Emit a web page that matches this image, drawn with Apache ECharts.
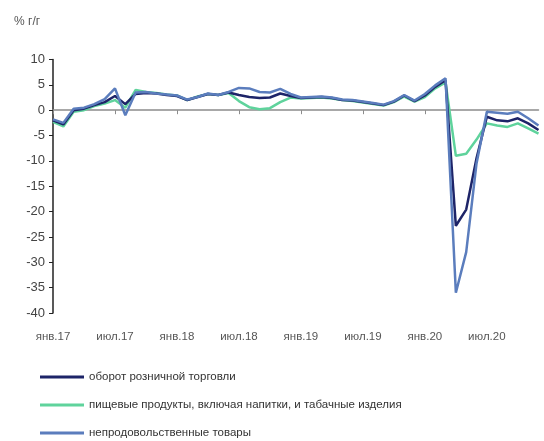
<!DOCTYPE html>
<html><head><meta charset="utf-8">
<script src="https://cdn.jsdelivr.net/npm/echarts@6/dist/echarts.min.js"></script>
<style>html,body{margin:0;padding:0;background:#fff}#c{width:544px;height:441px}</style>
</head><body><div id="c"></div>
<script>
const months = ['янв','фев','мар','апр','май','июн','июл','авг','сен','окт','ноя','дек'];
const years = ['17','18','19','20'];
const categories = [];
years.forEach(y => months.forEach(m => categories.push(m + '.' + y)));

const retail = [-2.0,-2.8,0.0,0.3,1.0,1.6,2.8,1.2,3.2,3.4,3.3,3.0,
  2.8,2.0,2.6,3.2,3.0,3.5,3.0,2.6,2.4,2.5,3.3,2.8,
  2.4,2.5,2.6,2.4,2.0,1.9,1.6,1.3,1.0,1.7,2.9,1.8,
  2.9,4.6,5.9,-22.8,-19.6,-9.5,-1.3,-2.0,-2.2,-1.6,-2.6,-3.9];
const food = [-2.3,-3.2,-0.3,0.0,0.8,1.3,2.0,0.5,4.0,3.6,3.4,3.1,
  2.9,2.0,2.7,3.2,3.0,3.4,1.8,0.6,0.2,0.4,1.6,2.5,
  2.3,2.4,2.5,2.3,2.0,1.8,1.5,1.2,0.9,1.6,2.7,1.7,
  2.6,4.3,5.5,-9.0,-8.6,-5.8,-2.6,-3.0,-3.3,-2.6,-3.6,-4.6];
const nonfood = [-1.8,-2.5,0.3,0.5,1.2,2.2,4.3,-1.0,3.5,3.6,3.3,3.1,
  2.9,2.1,2.6,3.3,3.0,3.6,4.4,4.3,3.6,3.5,4.2,3.2,
  2.5,2.6,2.7,2.5,2.1,2.0,1.7,1.4,1.1,1.8,3.0,1.9,
  3.2,4.9,6.3,-36.0,-28.0,-10.5,-0.3,-0.5,-0.7,-0.3,-1.6,-3.0];

const seriesNames = ['оборот розничной торговли','пищевые продукты, включая напитки, и табачные изделия','непродовольственные товары'];
const colors = ['#1d2468','#5fd39c','#5b7dbd'];
const yTicks = {min:-40, max:10, interval:5};

const chart = echarts.init(document.getElementById('c'));
const font = 'Liberation Sans, Arial, sans-serif';
function mk(name, data, color, z){
  return {name, type:'line', data, xAxisIndex:0, yAxisIndex:0, showSymbol:false, symbol:'none',
    lineStyle:{color, width:2.5}, itemStyle:{color}, z, animation:false};
}
function lg(i, top){
  return {orient:'horizontal', left:35, top, itemWidth:44, itemHeight:3, icon:'rect', itemGap:0,
    textStyle:{fontFamily:font, fontSize:11.5, color:'#333'}, data:[seriesNames[i]], selectedMode:false};
}
chart.setOption({
  animation:false,
  title:{text:'% г/г', left:9, top:11, textStyle:{fontFamily:font, fontSize:12, fontWeight:'normal', color:'#555'}},
  grid:{left:53, right:5.5, top:59.5, bottom:128, containLabel:false},
  legend:[lg(0,366), lg(1,394), lg(2,422)],
  xAxis:[
    {type:'category', data:categories, boundaryGap:false,
     axisLine:{onZero:true, lineStyle:{color:'#8c8c8c', width:1.5}},
     axisTick:{show:true, interval:5, length:4, inside:false, lineStyle:{color:'#8c8c8c'}},
     axisLabel:{show:false}, splitLine:{show:false}},
    {type:'category', data:categories, boundaryGap:false, position:'bottom',
     axisLine:{show:false}, axisTick:{show:false},
     axisLabel:{show:true, interval:5, margin:18, fontFamily:font, fontSize:11.5, color:'#555'},
     splitLine:{show:false}}
  ],
  yAxis:{type:'value', min:yTicks.min, max:yTicks.max, interval:yTicks.interval,
    axisLine:{show:true, onZero:false, lineStyle:{color:'#222', width:1.5}},
    axisTick:{show:true, length:4, lineStyle:{color:'#222'}},
    axisLabel:{fontFamily:font, fontSize:13, color:'#444', margin:8},
    splitLine:{show:false}},
  series:[
    mk(seriesNames[0], retail, colors[0], 3),
    mk(seriesNames[1], food, colors[1], 2),
    mk(seriesNames[2], nonfood, colors[2], 4)
  ]
});
</script></body></html>
